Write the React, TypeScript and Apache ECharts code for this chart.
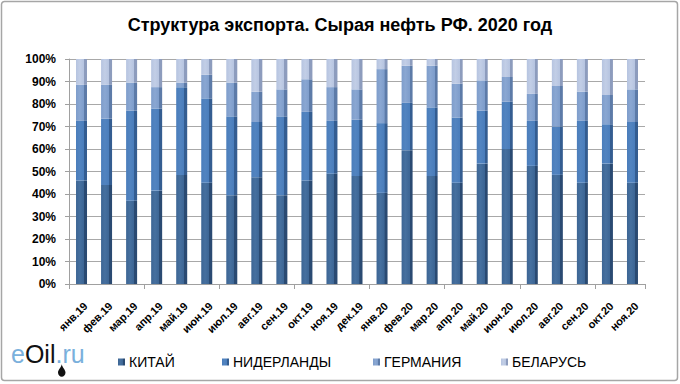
import React, { useEffect, useRef } from "react";
import * as echarts from "echarts";

const categories = [
  "янв.19", "фев.19", "мар.19", "апр.19", "май.19", "июн.19", "июл.19", "авг.19",
  "сен.19", "окт.19", "ноя.19", "дек.19", "янв.20", "фев.20", "мар.20", "апр.20",
  "май.20", "июн.20", "июл.20", "авг.20", "сен.20", "окт.20", "ноя.20",
];
const china = [46, 44, 37, 41.5, 48.5, 45, 39.5, 47.5, 39.5, 46, 49, 48, 40.5, 59.5, 48, 45, 53.5, 60, 52.5, 48.5, 45, 53.5, 45];
const netherlands = [26.5, 29.5, 40, 36.5, 39, 37.5, 35, 24.5, 35, 30.5, 23.5, 25, 31, 21, 30.5, 29, 23.5, 21, 20, 21.5, 27.5, 17.5, 27];
const germany = [16, 15, 12.5, 9.5, 2, 10.5, 15, 13.5, 12, 14.5, 15, 13.5, 24, 16.5, 18.5, 15, 13.5, 11, 12, 18, 13, 13, 14.5];
const belarus = [11.5, 11.5, 10.5, 12.5, 10.5, 7, 10.5, 14.5, 13.5, 9, 12.5, 13.5, 4.5, 3, 3, 11, 9.5, 8, 15.5, 12, 14.5, 16, 13.5];
const yTicks = [0, 10, 20, 30, 40, 50, 60, 70, 80, 90, 100];

const seriesNames = ["КИТАЙ", "НИДЕРЛАНДЫ", "ГЕРМАНИЯ", "БЕЛАРУСЬ"];
const palette = [
  ["#46709f", "#3c6594", "#2a4a72"],
  ["#5284c0", "#4a7dbb", "#345d91"],
  ["#8aa7d2", "#7e9dcb", "#5d7ba8"],
  ["#c2cee6", "#b6c4e0", "#8d9cbd"],
];
const legendLeft = [113, 217, 368, 496];

const narrow = "'Liberation Sans Narrow', 'Arial Narrow', 'Liberation Sans', Arial, sans-serif";
const arial = "'Liberation Sans', Arial, sans-serif";

function grad(i: number) {
  const [a, b, c] = palette[i];
  return new echarts.graphic.LinearGradient(0, 0, 1, 0, [
    { offset: 0, color: b },
    { offset: 0.35, color: a },
    { offset: 0.72, color: b },
    { offset: 0.73, color: c },
    { offset: 1, color: c },
  ]);
}

export default function App() {
  const ref = useRef<HTMLDivElement>(null);
  useEffect(() => {
    if (!ref.current) return;
    echarts.graphic.registerShape(
      "drop",
      echarts.graphic.extendPath(
        "M5 0 C5 3 0 7 0 10 C0 13 2.5 15 5 15 C7.5 15 10 13 10 10 C10 7 5 3 5 0 Z",
        {}
      )
    );
    const chart = echarts.init(ref.current, null, { renderer: "svg" });
    const data = [china, netherlands, germany, belarus];
    chart.setOption({
      animation: false,
      backgroundColor: "#ffffff",
      title: {
        text: "Структура экспорта. Сырая нефть РФ. 2020 год",
        left: "center",
        top: 11,
        textStyle: { fontFamily: narrow, fontWeight: "bold", fontSize: 18, color: "#000" },
      },
      legend: seriesNames.map((n, i) => ({
        data: [n],
        left: legendLeft[i],
        top: 350,
        icon: "rect",
        itemWidth: 7,
        itemHeight: 7,
        itemGap: 0,
        textStyle: { fontFamily: narrow, fontSize: 14, color: "#000", padding: [0, 0, 0, -1] },
      })),
      grid: [
        { left: 69, top: 59, width: 576, height: 225 },
        { left: 73, top: 59, width: 576, height: 225 },
      ],
      xAxis: [
        {
          type: "category",
          data: categories,
          gridIndex: 0,
          axisLine: { show: true, lineStyle: { color: "#a0a0a0" } },
          axisTick: { show: true, length: 5, lineStyle: { color: "#a0a0a0" } },
          axisLabel: { show: false },
        },
        {
          type: "category",
          data: categories,
          gridIndex: 1,
          axisLine: { show: false },
          axisTick: { show: false },
          axisLabel: {
            rotate: 45,
            interval: 0,
            margin: 20,
            fontFamily: arial,
            fontWeight: "bold",
            fontSize: 11,
            color: "#000",
          },
        },
      ],
      yAxis: [
        {
          type: "value",
          min: 0,
          max: 100,
          interval: 10,
          gridIndex: 0,
          axisLine: { show: true, lineStyle: { color: "#a0a0a0" } },
          axisTick: { show: true, length: 4, lineStyle: { color: "#a0a0a0" } },
          splitLine: { show: true, lineStyle: { color: "#a8a8a8", width: 1 } },
          axisLabel: {
            margin: 13,
            fontFamily: arial,
            fontWeight: "bold",
            fontSize: 12,
            color: "#000",
            formatter: (v: number) => (yTicks.includes(v) ? v + "%" : ""),
          },
        },
        { type: "value", min: 0, max: 100, gridIndex: 1, show: false },
      ],
      series: seriesNames.map((n, i) => ({
        name: n,
        type: "bar",
        stack: "total",
        barWidth: 11,
        xAxisIndex: 0,
        yAxisIndex: 0,
        data: data[i],
        itemStyle: { color: grad(i) },
      })),
      graphic: [
        {
          type: "rect",
          shape: { x: 1.5, y: 1.5, width: 676, height: 379, r: 3 },
          style: { fill: "none", stroke: "#a6a6a6", lineWidth: 1.5 },
          silent: true,
        },
        {
          type: "text",
          left: 11,
          top: 341,
          style: {
            text: "{a|e}{b|Oil}{a|.ru}",
            rich: {
              a: { fontFamily: arial, fontSize: 25, fill: "#7ab0dc" },
              b: { fontFamily: arial, fontSize: 25, fill: "#111" },
            },
          },
        },
        {
          type: "drop",
          x: 58,
          y: 364,
          scaleX: 0.75,
          scaleY: 0.85,
          style: { fill: "#111" },
        },
      ],
    });
    return () => chart.dispose();
  }, []);
  return <div ref={ref} style={{ width: 680, height: 384, position: "absolute", left: 0, top: 0 }} />;
}
